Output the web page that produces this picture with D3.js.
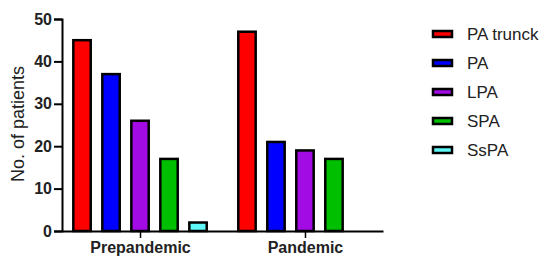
<!DOCTYPE html>
<html>
<head>
<meta charset="utf-8">
<script src="https://cdn.jsdelivr.net/npm/d3@7"></script>
<style>
  body { margin: 0; background: #fff; }
  text { font-family: "Liberation Sans", Arial, sans-serif; fill: #222; }
</style>
</head>
<body>
<div class="chart"></div>
<script>
// grouped bars, two periods x five vessel types

var groups = ['Prepandemic', 'Pandemic'];
var series = ['PA trunck', 'PA', 'LPA', 'SPA', 'SsPA'];
var prepandemic = [45, 37, 26, 17, 2];
var pandemic = [47, 21, 19, 17, 0];
var yTicks = [0, 10, 20, 30, 40, 50];
var colors = ['#ff0000', '#0000ff', '#a20be3', '#00bf00', '#5ff7f7'];

var values = { 'Prepandemic': prepandemic, 'Pandemic': pandemic };

var chart = {
  width: 550,
  height: 264,
  left: 62,
  right: 383,
  top: 19,
  bottom: 231
};

var svg = d3.select('.chart')
  .append('svg')
  .attr('width', chart.width)
  .attr('height', chart.height);

var y = d3.scaleLinear().domain([0, 50]).range([chart.bottom, chart.top]);
var x0 = d3.scalePoint().domain(groups).range([chart.left, chart.right]).padding(0.473);
var x1 = d3.scaleBand().domain(series).range([-72.5, 72.5]).paddingInner(0.4).paddingOuter(0.2);

// bars
groups.forEach(function(g){
  svg.append('g')
    .attr('transform', 'translate(' + x0(g) + ',0)')
    .selectAll('rect')
    .data(values[g].map(function(v, i){ return { key: series[i], value: v, i: i }; })
      .filter(function(d){ return d.value > 0; }))
    .enter()
    .append('rect')
    .attr('x', function(d){ return x1(d.key); })
    .attr('y', function(d){ return y(d.value); })
    .attr('width', x1.bandwidth())
    .attr('height', function(d){ return y(0) - y(d.value); })
    .attr('fill', function(d){ return colors[d.i]; })
    .attr('stroke', '#000')
    .attr('stroke-width', 2.5);
});

// y axis
var yAxis = svg.append('g')
  .attr('transform', 'translate(' + chart.left + ',0)')
  .call(d3.axisLeft(y).tickValues(yTicks).tickSize(8).tickPadding(2));
yAxis.select('.domain').attr('stroke', '#000').attr('stroke-width', 2);
yAxis.selectAll('.tick line').attr('stroke', '#000').attr('stroke-width', 2);
yAxis.selectAll('.tick text')
  .style('font-size', '16px').style('font-weight', 'bold').attr('fill', '#222');

// x axis
var xAxis = svg.append('g')
  .attr('transform', 'translate(0,' + chart.bottom + ')')
  .call(d3.axisBottom(x0).tickSize(7).tickPadding(4).tickSizeOuter(0));
xAxis.select('.domain').attr('stroke', '#000').attr('stroke-width', 2);
xAxis.selectAll('.tick line').attr('stroke', '#000').attr('stroke-width', 1.5);
xAxis.selectAll('.tick text')
  .style('font-size', '16px').style('font-weight', 'bold').attr('fill', '#222');

// y label
svg.append('text')
  .attr('transform', 'translate(24,' + 124 + ') rotate(-90)')
  .attr('text-anchor', 'middle')
  .style('font-size', '18px')
  .text('No. of patients');

// legend
var legend = svg.selectAll('.legend')
  .data(series)
  .enter()
  .append('g')
  .attr('class', 'legend')
  .attr('transform', function(d, i){ return 'translate(432,' + (34 + i * 29) + ')'; });

legend.append('rect')
  .attr('x', 1)
  .attr('y', -3)
  .attr('width', 19)
  .attr('height', 6)
  .attr('fill', function(d, i){ return colors[i]; })
  .attr('stroke', '#000')
  .attr('stroke-width', 2.5);

legend.append('text')
  .attr('x', 35)
  .attr('y', 0)
  .attr('dy', '0.35em')
  .style('font-size', '17px')
  .text(function(d){ return d; });
</script>
</body>
</html>
